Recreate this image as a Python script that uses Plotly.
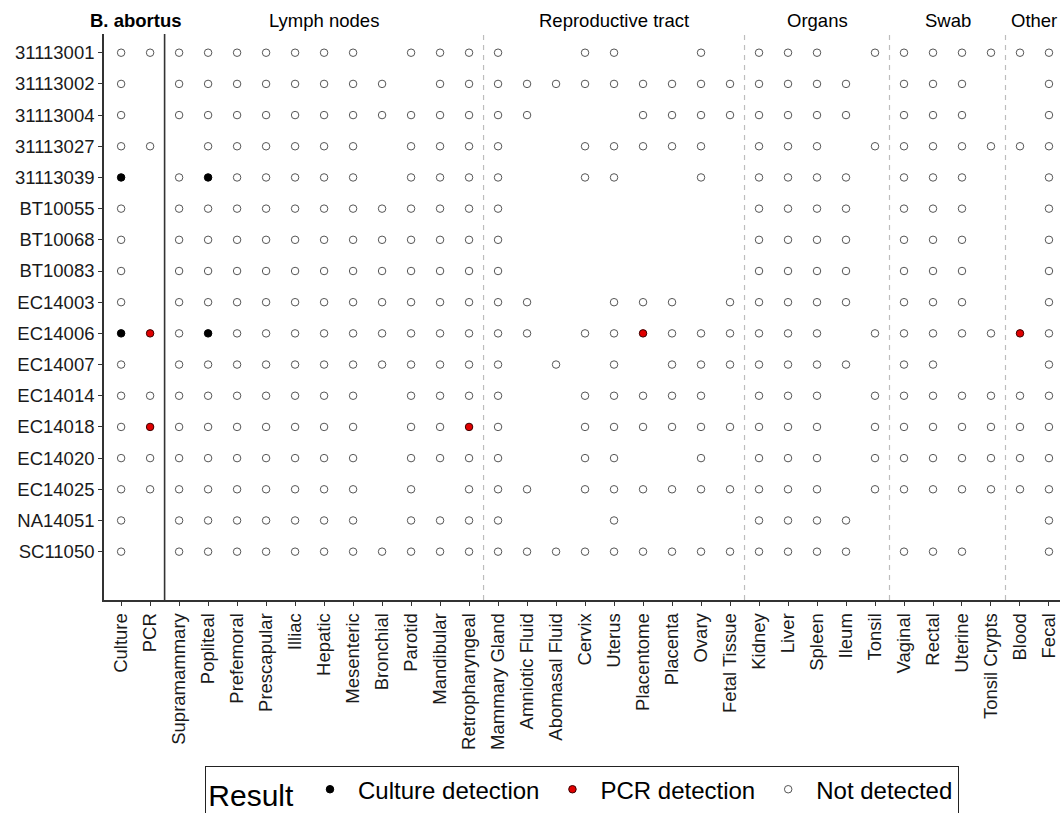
import plotly.graph_objects as go

# ---------------- data ----------------
samples = ["31113001", "31113002", "31113004", "31113027", "31113039",
           "BT10055", "BT10068", "BT10083", "EC14003", "EC14006",
           "EC14007", "EC14014", "EC14018", "EC14020", "EC14025",
           "NA14051", "SC11050"]

tissues = ["Culture", "PCR",
           "Supramammary", "Popliteal", "Prefemoral", "Prescapular", "Illiac",
           "Hepatic", "Mesenteric", "Bronchial", "Parotid", "Mandibular",
           "Retropharyngeal",
           "Mammary Gland", "Amniotic Fluid", "Abomasal Fluid", "Cervix", "Uterus",
           "Placentome", "Placenta", "Ovary", "Fetal Tissue",
           "Kidney", "Liver", "Spleen", "Ileum", "Tonsil",
           "Vaginal", "Rectal", "Uterine", "Tonsil Crypts",
           "Blood", "Fecal"]

group_names = ["B. abortus", "Lymph nodes", "Reproductive tract", "Organs", "Swab", "Other"]
group_sizes = [2, 11, 9, 5, 4, 2]

# codes per column: o = not detected, C = culture detection, P = PCR detection, . = not tested
# groups separated by spaces: B.abortus | Lymph | Reproductive | Organs | Swab | Other
results = [
    "oo ooooooo.ooo o..oo..o. ooo.o oooo oo",   # 31113001
    "o. oooooooo.oo ooooooooo oooo. ooo. .o",   # 31113002
    "o. ooooooooooo oo...oooo oooo. ooo. .o",   # 31113004
    "oo .oooooo.ooo o..ooooo. ooo.o oooo oo",   # 31113027
    "C. oCooooo.ooo o..oo..o. oooo. ooo. .o",   # 31113039
    "o. ooooooooooo o........ oooo. ooo. .o",   # BT10055
    "o. ooooooooooo o........ oooo. ooo. .o",   # BT10068
    "o. ooooooooooo o........ oooo. ooo. .o",   # BT10083
    "o. ooooooooooo oo..ooo.o oooo. ooo. .o",   # EC14003
    "CP oCooooooooo oo.ooPooo ooo.o oooo Po",   # EC14006
    "o. ooooooooooo o.o.o.ooo oooo. oo.. .o",   # EC14007
    "oo ooooooo.ooo o..ooooo. ooo.o oooo oo",   # EC14014
    "oP ooooooo.ooP o..oooooo ooo.o oooo oo",   # EC14018
    "oo ooooooo.ooo o..oo..o. ooo.o oooo oo",   # EC14020
    "oo ooooooo.o.o oo.oooooo ooo.o oooo oo",   # EC14025
    "o. ooooooo.ooo o...o.... oooo. .... .o",   # NA14051
    "o. ooooooooooo ooooooooo oooo. ooo. .o",   # SC11050
]

result_labels = {"C": "Culture detection", "P": "PCR detection", "o": "Not detected"}
result_fill = {"C": "#000000", "P": "#e00000", "o": "#ffffff"}
result_line = {"C": "#000000", "P": "#3a0000", "o": "#555555"}

# ---------------- build ----------------
pts = {k: ([], []) for k in result_labels}
for s, row in zip(samples, results):
    codes = row.replace(" ", "")
    for t, c in zip(tissues, codes):
        if c in pts:
            pts[c][0].append(t)
            pts[c][1].append(s)

FONT = "Liberation Sans, Arial, sans-serif"
fig = go.Figure()
rank = {"C": 1, "P": 2, "o": 3}
for k in ["o", "C", "P"]:
    xs, ys = pts[k]
    fig.add_trace(go.Scatter(
        x=xs, y=ys, mode="markers", name=result_labels[k], legendrank=rank[k],
        marker=dict(size=7.5, color=result_fill[k],
                    line=dict(color=result_line[k], width=1)),
        cliponaxis=False,
    ))

# separators between groups
bounds = []
acc = 0
for g in group_sizes[:-1]:
    acc += g
    bounds.append(acc - 0.5)
for i, b in enumerate(bounds):
    if i == 0:
        fig.add_shape(type="line", xref="x", yref="paper", x0=b, x1=b, y0=0, y1=1,
                      line=dict(color="#333333", width=1.6), layer="below")
    else:
        fig.add_shape(type="line", xref="x", yref="paper", x0=b, x1=b, y0=0, y1=1,
                      line=dict(color="#bdbdbd", width=1.2, dash="5px,5px"), layer="below")

# group headers
start = 0
for name, g in zip(group_names, group_sizes):
    center = start + (g - 1) / 2
    fig.add_annotation(x=center, y=1, xref="x", yref="paper", yanchor="bottom",
                       text=f"<b>{name}</b>" if name == "B. abortus" else name,
                       showarrow=False, yshift=1,
                       font=dict(family=FONT, size=18.5, color="#000000"))
    start += g

fig.update_layout(
    width=1060, height=813,
    margin=dict(l=104, r=0, t=34, b=213, autoexpand=False),
    paper_bgcolor="white", plot_bgcolor="white",
    font=dict(family=FONT, color="#1a1a1a"),
    showlegend=True,
    legend=dict(
        orientation="h", x=0.5, xanchor="center", y=-0.293, yanchor="top",
        title=dict(text="Result", font=dict(family=FONT, size=30, color="#000000"), side="left"),
        font=dict(family=FONT, size=24, color="#000000"),
        bordercolor="#222222", borderwidth=1.3, bgcolor="white",
        itemsizing="trace", itemwidth=46,
    ),
    xaxis=dict(
        type="category", categoryorder="array", categoryarray=tissues,
        range=[-0.59, 32.38], tickangle=-90, automargin=False,
        showgrid=False, zeroline=False,
        showline=True, linecolor="#333333", linewidth=1.6,
        ticks="outside", ticklen=4, tickcolor="#333333", tickwidth=1.2,
        tickfont=dict(family=FONT, size=18.5, color="#1a1a1a"),
    ),
    yaxis=dict(
        type="category", categoryorder="array", categoryarray=samples,
        range=[17.55, -0.6], automargin=False,
        showgrid=False, zeroline=False,
        showline=True, linecolor="#333333", linewidth=1.6,
        ticks="outside", ticklen=4, tickcolor="#333333", tickwidth=1.2,
        tickfont=dict(family=FONT, size=18.5, color="#1a1a1a"),
    ),
)

# remove the browser's default body margin so the figure fills the window exactly
fig.write_html("out.html", config={"displayModeBar": False},
               post_script="document.body.style.margin='0';document.body.style.overflow='hidden';")
